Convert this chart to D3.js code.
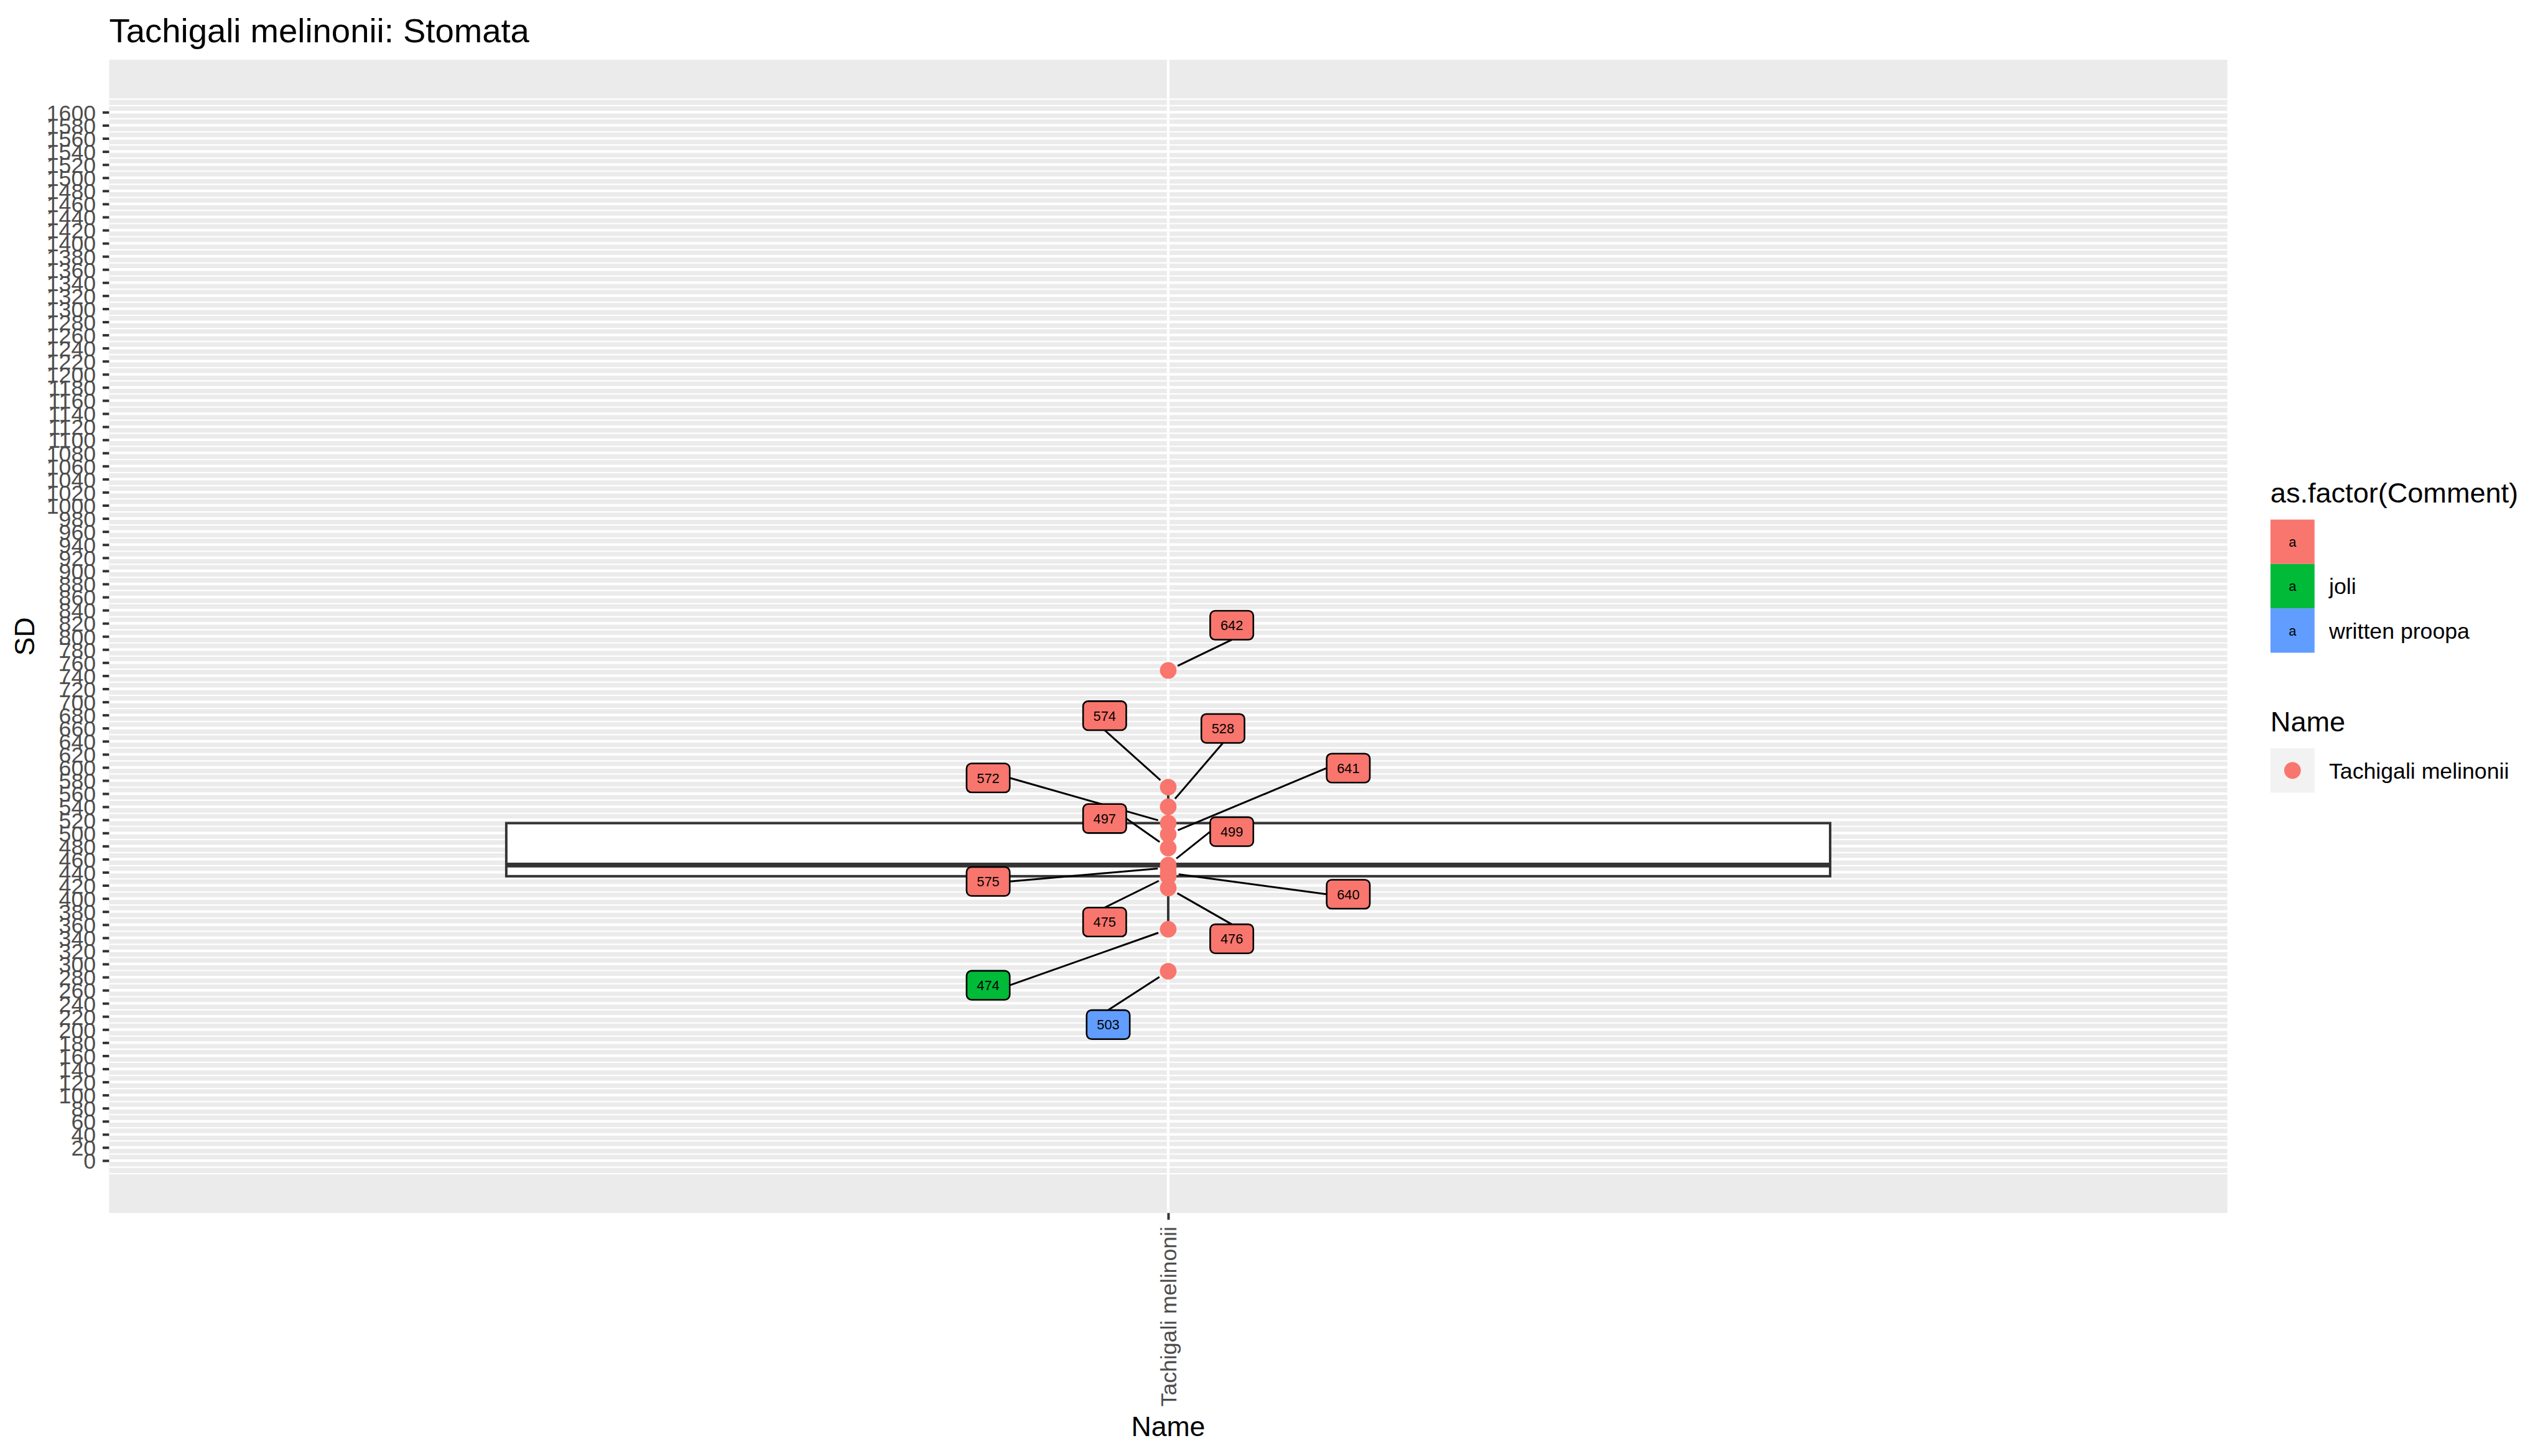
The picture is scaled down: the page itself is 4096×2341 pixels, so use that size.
<!DOCTYPE html>
<html>
<head>
<meta charset="utf-8">
<script src="https://cdn.jsdelivr.net/npm/d3@7"></script>
<style>
  html, body { margin: 0; padding: 0; background: #ffffff; }
  svg { display: block; }
  text { font-family: "Liberation Sans", Arial, Helvetica, sans-serif; }
</style>
</head>
<body>
<svg id="chart" width="4096" height="2341"></svg>
<script>
// ---------------- data ----------------
const chartTitle = "Tachigali melinonii: Stomata";
const categories = ["Tachigali melinonii"];
const sampleIds   = ["642", "574", "528", "572", "641", "497", "499", "575", "640", "475", "476", "474", "503"];
const sdValues    = [748, 570, 540, 515, 498, 477, 451, 447, 439, 434, 416, 353, 289];
const comments    = ["", "", "", "", "", "", "", "", "", "", "", "joli", "written proopa"];
// label anchor positions as placed by the repel layout (x offset in category units, y in SD units)
const labelOffsetX = [0.036, -0.036, 0.031, -0.102, 0.102, -0.036, 0.036, -0.102, 0.102, -0.036, 0.036, -0.102, -0.034];
const labelSD      = [817, 679, 659.5, 584, 599, 522, 502, 426, 406.5, 364, 338.5, 267.5, 207.5];
const commentLevels = ["", "joli", "written proopa"];
const commentColors = ["#F8766D", "#00BA38", "#619CFF"];
const yDomain = [-80, 1680];
const yBreaks = d3.range(0, 1601, 20);
const yMinorBreaks = d3.range(-20, 1621, 10);

// ---------------- layout (reference pixel units, scaled at the end) ----------------
const S = 0.991;
const panel = { left: 177, right: 3613, top: 97, bottom: 1968 };

const svg = d3.select("#chart");
const g = svg.append("g").attr("transform", `scale(${S})`);

const y = d3.scaleLinear().domain(yDomain).range([panel.bottom, panel.top]);
const xCat = d3.scalePoint().domain(categories).range([panel.left, panel.right]).padding(0.5);
// continuous position around the discrete category (1 category => domain 0.4..1.6)
const xCont = d3.scaleLinear().domain([0.4, 1.6]).range([panel.left, panel.right]);
const unit = xCont(1) - xCont(0);
const color = d3.scaleOrdinal().domain(commentLevels).range(commentColors);

const data = sampleIds.map((id, i) => ({
  id, sd: sdValues[i], comment: comments[i], name: categories[0],
  lx: labelOffsetX[i], ly: labelSD[i]
}));

// panel background
g.append("rect")
  .attr("x", panel.left).attr("y", panel.top)
  .attr("width", panel.right - panel.left).attr("height", panel.bottom - panel.top)
  .attr("fill", "#EBEBEB");

// minor grid
g.append("g").selectAll("line").data(yMinorBreaks).join("line")
  .attr("x1", panel.left).attr("x2", panel.right)
  .attr("y1", d => y(d)).attr("y2", d => y(d))
  .attr("stroke", "#FFFFFF").attr("stroke-width", 2.2);
// major grid
g.append("g").selectAll("line").data(yBreaks).join("line")
  .attr("x1", panel.left).attr("x2", panel.right)
  .attr("y1", d => y(d)).attr("y2", d => y(d))
  .attr("stroke", "#FFFFFF").attr("stroke-width", 4.3);
g.append("g").selectAll("line").data(categories).join("line")
  .attr("x1", d => xCat(d)).attr("x2", d => xCat(d))
  .attr("y1", panel.top).attr("y2", panel.bottom)
  .attr("stroke", "#FFFFFF").attr("stroke-width", 4.3);

// boxplot stats
const sorted = sdValues.slice().sort(d3.ascending);
const q1 = d3.quantile(sorted, 0.25);
const med = d3.quantile(sorted, 0.5);
const q3 = d3.quantile(sorted, 0.75);
const iqr = q3 - q1;
const lowW = d3.min(sorted.filter(v => v >= q1 - 1.5 * iqr));
const highW = d3.max(sorted.filter(v => v <= q3 + 1.5 * iqr));
const boxWidth = 0.75;

const bx = xCat(categories[0]);
const boxG = g.append("g");
boxG.append("line").attr("x1", bx).attr("x2", bx).attr("y1", y(q3)).attr("y2", y(highW))
  .attr("stroke", "#333333").attr("stroke-width", 4);
boxG.append("line").attr("x1", bx).attr("x2", bx).attr("y1", y(q1)).attr("y2", y(lowW))
  .attr("stroke", "#333333").attr("stroke-width", 4);
boxG.append("rect")
  .attr("x", bx - boxWidth / 2 * unit).attr("y", y(q3))
  .attr("width", boxWidth * unit).attr("height", y(q1) - y(q3))
  .attr("fill", "#FFFFFF").attr("stroke", "#333333").attr("stroke-width", 4);
boxG.append("line")
  .attr("x1", bx - boxWidth / 2 * unit).attr("x2", bx + boxWidth / 2 * unit)
  .attr("y1", y(med)).attr("y2", y(med))
  .attr("stroke", "#333333").attr("stroke-width", 8);

// points
g.append("g").selectAll("circle").data(data).join("circle")
  .attr("cx", d => xCat(d.name)).attr("cy", d => y(d.sd)).attr("r", 13.5)
  .attr("fill", "#F8766D");

// labels (repel style)
const LW = 70, LH = 47;
const segG = g.append("g");
const labG = g.append("g");
data.forEach(d => {
  const px = xCat(d.name), py = y(d.sd);
  const cx = xCont(1 + d.lx), cy = y(d.ly);
  const dx = px - cx, dy = py - cy;
  let sx, sy;
  if (Math.abs(dx) / (LW / 2) > Math.abs(dy) / (LH / 2)) {
    sx = cx + Math.sign(dx) * LW / 2; sy = cy;
  } else {
    sx = cx; sy = cy + Math.sign(dy) * LH / 2;
  }
  const len = Math.hypot(px - sx, py - sy);
  const pad = 17;
  const ex = px - (px - sx) / len * pad, ey = py - (py - sy) / len * pad;
  segG.append("line").attr("x1", sx).attr("y1", sy).attr("x2", ex).attr("y2", ey)
    .attr("stroke", "#000000").attr("stroke-width", 3);
  labG.append("rect")
    .attr("x", cx - LW / 2).attr("y", cy - LH / 2).attr("width", LW).attr("height", LH)
    .attr("rx", 8).attr("ry", 8)
    .attr("fill", color(d.comment)).attr("stroke", "#000000").attr("stroke-width", 2.6);
  labG.append("text").attr("x", cx).attr("y", cy).attr("dy", "0.36em")
    .attr("text-anchor", "middle").attr("font-size", 22).attr("fill", "#000000")
    .text(d.id);
});

// y axis
const yAxis = d3.axisLeft(y).tickValues(yBreaks).tickFormat(d3.format("d"))
  .tickSize(10.5).tickPadding(11);
const yAx = g.append("g").attr("transform", `translate(${panel.left},0)`).call(yAxis);
yAx.select(".domain").remove();
yAx.selectAll(".tick line").attr("stroke", "#333333").attr("stroke-width", 4);
yAx.selectAll(".tick text").attr("font-size", 36).attr("fill", "#4D4D4D")
  .attr("font-family", "'Liberation Sans', Arial, sans-serif").attr("dy", "0.36em");

// x axis
const xAxis = d3.axisBottom(xCat).tickSize(11).tickPadding(0);
const xAx = g.append("g").attr("transform", `translate(0,${panel.bottom})`).call(xAxis);
xAx.select(".domain").remove();
xAx.selectAll(".tick line").attr("stroke", "#333333").attr("stroke-width", 4);
xAx.selectAll(".tick text")
  .attr("font-size", 36).attr("fill", "#4D4D4D")
  .attr("font-family", "'Liberation Sans', Arial, sans-serif")
  .attr("text-anchor", "end")
  .attr("transform", "translate(0,22) rotate(-90)")
  .attr("x", 0).attr("y", 0).attr("dy", "0.36em");

// axis titles
g.append("text").attr("x", (panel.left + panel.right) / 2).attr("y", 2330)
  .attr("text-anchor", "middle").attr("font-size", 45).attr("fill", "#000000").text("Name");
g.append("text").attr("transform", `translate(55,${(panel.top + panel.bottom) / 2}) rotate(-90)`)
  .attr("text-anchor", "middle").attr("font-size", 45).attr("fill", "#000000").text("SD");

// title
g.append("text").attr("x", panel.left).attr("y", 69)
  .attr("font-size", 55).attr("fill", "#000000").text(chartTitle);

// legend: comment
const lx0 = 3683;
const leg1 = g.append("g");
leg1.append("text").attr("x", lx0).attr("y", 815).attr("font-size", 45.5).attr("fill", "#000000")
  .text("as.factor(Comment)");
const keyH = 72, keyW = 71.5, key0 = 843;
commentLevels.forEach((lv, i) => {
  const ky = key0 + i * keyH;
  leg1.append("rect").attr("x", lx0).attr("y", ky).attr("width", keyW).attr("height", keyH)
    .attr("fill", color(lv));
  leg1.append("text").attr("x", lx0 + keyW / 2).attr("y", ky + keyH / 2).attr("dy", "0.36em")
    .attr("text-anchor", "middle").attr("font-size", 22).attr("fill", "#000000").text("a");
  leg1.append("text").attr("x", 3778).attr("y", ky + keyH / 2).attr("dy", "0.36em")
    .attr("font-size", 36).attr("fill", "#000000").text(lv);
});

// legend: name
const leg2 = g.append("g");
leg2.append("text").attr("x", lx0).attr("y", 1187).attr("font-size", 45.5).attr("fill", "#000000")
  .text("Name");
categories.forEach((c, i) => {
  const ky = 1214 + i * keyH;
  leg2.append("rect").attr("x", lx0).attr("y", ky).attr("width", keyW).attr("height", keyH)
    .attr("fill", "#F2F2F2");
  leg2.append("circle").attr("cx", lx0 + keyW / 2).attr("cy", ky + keyH / 2).attr("r", 13.5)
    .attr("fill", "#F8766D");
  leg2.append("text").attr("x", 3778).attr("y", ky + keyH / 2).attr("dy", "0.36em")
    .attr("font-size", 36).attr("fill", "#000000").text(c);
});
</script>
</body>
</html>
